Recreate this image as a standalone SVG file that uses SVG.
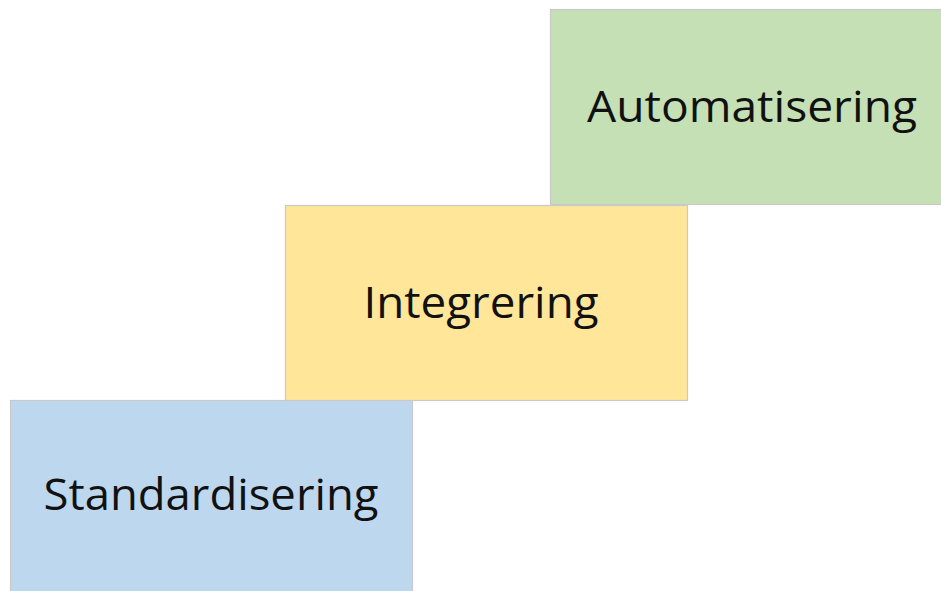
<svg xmlns="http://www.w3.org/2000/svg" width="941" height="591" viewBox="0 0 941 591">
  <style>
    .step { stroke: #c9c9c9; stroke-width: 1.2; }
    .label { font-family: "Open Sans", "Noto Sans", sans-serif; font-size: 44px; fill: #111; text-anchor: middle; }
  </style>
  <rect width="941" height="591" fill="#ffffff"/>
  <g id="connectors"/>
  <g id="standardisering">
    <rect class="step" x="10.5" y="400.5" width="402" height="200" fill="#bdd7ee"/>
    <text class="label" x="211" y="510" textLength="335" lengthAdjust="spacingAndGlyphs">Standardisering</text>
  </g>
  <g id="integrering">
    <rect class="step" x="285.5" y="205.5" width="402" height="195" fill="#ffe699"/>
    <text class="label" x="481" y="318" textLength="235" lengthAdjust="spacingAndGlyphs">Integrering</text>
  </g>
  <g id="automatisering">
    <rect class="step" x="550.5" y="9.5" width="402" height="195" fill="#c5e0b4"/>
    <text class="label" x="752" y="122" textLength="330" lengthAdjust="spacingAndGlyphs">Automatisering</text>
  </g>
</svg>
